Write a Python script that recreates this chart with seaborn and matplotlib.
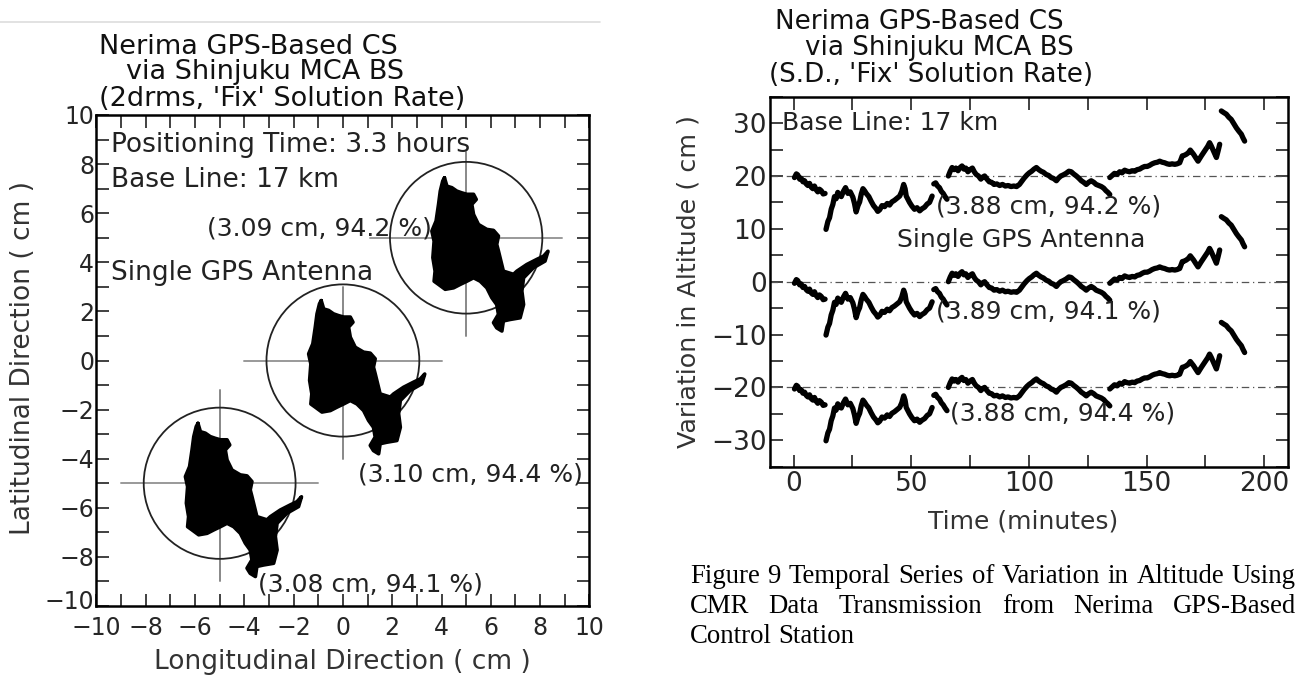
import numpy as np
import pandas as pd
import matplotlib
matplotlib.use("Agg")
import matplotlib.pyplot as plt
import matplotlib.transforms as mtransforms
import seaborn as sns
from matplotlib.patches import Circle
from matplotlib.lines import Line2D
from matplotlib.ticker import MultipleLocator

W, H = 1299, 676

# ---------------- data: left panel (horizontal scatter of three antennas) ----------------
cluster_cx = [5, 0, -5]
cluster_cy = [5, 0, -5]
cluster_r = [3.09, 3.10, 3.08]
cluster_labels = ["(3.09 cm, 94.2 %)", "(3.10 cm, 94.4 %)", "(3.08 cm, 94.1 %)"]
cluster_label_x = [-5.53, 0.60, -3.44]
cluster_label_y = [5.38, -4.66, -9.14]
cross_up = [3.5, 3.0, 3.8]
cross_down = [4.0, 4.0, 4.0]
cross_half = [3.9, 4.0, 4.0]

# outline of the dense point cloud, relative to each cluster centre (cm)
blob_dx = [-0.88, -0.78, -0.58, -0.38, -0.18, 0.03, 0.30, 0.41, 0.23, 0.30, 0.50, 0.84,
           1.11, 1.31, 1.24, 1.31, 1.51, 1.92, 2.06, 2.46, 2.87, 3.14, 3.32, 3.20, 2.73,
           2.33, 2.26, 2.33, 2.19, 1.78, 1.51, 1.45, 1.24, 1.11, 1.31, 1.24, 1.04, 0.84,
           0.57, 0.30, 0.03, -0.24, -0.51, -0.85, -1.12, -1.30, -1.26, -1.35, -1.30,
           -1.39, -1.22, -1.12, -1.05, -0.95]
blob_dy = [2.44, 2.10, 2.04, 1.90, 1.83, 1.77, 1.77, 1.56, 1.36, 0.95, 0.54, 0.34,
           0.30, 0.07, -0.27, -0.54, -1.36, -1.49, -1.36, -1.09, -0.88, -0.75, -0.55, -0.95, -1.22,
           -1.63, -2.17, -2.72, -3.26, -3.33, -3.39, -3.80, -3.67, -3.46, -3.12, -2.72, -2.44, -2.04,
           -1.77, -1.63, -1.77, -1.90, -2.04, -2.10, -1.90, -1.77, -1.36, -0.81, -0.14,
           0.27, 0.68, 1.36, 1.90, 2.31]

# ---------------- data: right panel (altitude time series) ----------------
series_offsets = [20, 0, -20]
series_labels = ["(3.88 cm, 94.2 %)", "(3.89 cm, 94.1 %)", "(3.88 cm, 94.4 %)"]
series_label_t = [60.5, 60.5, 66.3]
series_label_v = [14.2, -5.7, -24.9]

seg1 = [(0.4, -0.3), (1.2, 0.4), (1.8, 0.2), (2.6, -0.6), (3.2, -0.4), (4.0, -1.1), (4.7, -0.9),
        (5.4, -1.5), (6.1, -1.8), (6.8, -1.4), (7.5, -2.1), (8.2, -2.4), (8.9, -1.9), (9.6, -2.6),
        (10.3, -3.0), (11.0, -2.5), (11.8, -2.8), (12.6, -3.4), (13.4, -3.3)]
seg2 = [(13.8, -10.1), (14.6, -8.6), (15.3, -7.9), (16.0, -6.3), (16.7, -5.4), (17.4, -3.9),
        (18.1, -4.3), (18.8, -3.1), (19.5, -3.7), (20.3, -3.9), (21.2, -2.9), (22.1, -2.2),
        (23.1, -3.3), (24.1, -3.0), (25.2, -4.0), (25.9, -5.2), (26.6, -6.8), (27.4, -5.6),
        (28.1, -4.9), (28.8, -3.4), (29.5, -2.4), (30.2, -2.8), (30.9, -3.3), (32.0, -3.9),
        (33.0, -4.8), (34.0, -5.6), (35.1, -6.2), (35.8, -6.7), (36.6, -6.4), (37.6, -5.6),
        (38.7, -5.8), (39.8, -5.2), (40.8, -5.5), (41.8, -4.9), (42.9, -4.6), (44.0, -4.2),
        (45.1, -3.8), (46.0, -2.9), (46.8, -1.6), (47.4, -2.4), (47.9, -3.8), (48.6, -4.4),
        (49.3, -5.0), (50.3, -5.7), (51.4, -6.3), (52.5, -6.0), (53.6, -6.6), (54.6, -6.2),
        (55.7, -5.9), (56.8, -5.3), (57.8, -5.0), (58.9, -3.8)]
seg3 = [(59.6, -1.5), (60.4, -1.3), (61.2, -1.9), (62.0, -2.2), (62.8, -2.9), (63.6, -3.3),
        (64.4, -3.9), (65.2, -4.4)]
seg4 = [(65.8, 0.0), (66.6, 0.9), (67.4, 1.6), (68.2, 1.2), (69.0, 1.5), (69.9, 1.0), (70.8, 1.6),
        (71.6, 1.9), (72.4, 1.3), (73.2, 1.5), (74.1, 0.8), (75.0, 1.2), (76.0, 1.5), (76.8, 0.8),
        (77.6, 0.3), (78.6, 0.0), (79.6, -0.6), (80.4, -0.2), (81.2, 0.0), (82.2, -0.6),
        (83.2, -1.1), (84.2, -1.2), (85.2, -1.6), (86.4, -1.5), (87.6, -1.8), (88.8, -1.6),
        (90.0, -1.9), (91.2, -1.8), (92.4, -2.0), (93.6, -1.9), (94.8, -2.0), (96.0, -1.6),
        (97.0, -1.0), (98.0, -0.4), (99.2, 0.2), (100.2, 0.6), (101.2, 0.9), (102.2, 1.3),
        (103.2, 1.6), (104.2, 1.2), (105.2, 0.9), (106.2, 0.7), (107.3, 0.3), (108.4, 0.1),
        (109.5, -0.3), (110.6, -0.5), (111.7, -0.9), (112.6, -0.4), (113.6, 0.0), (114.6, 0.2),
        (115.8, 0.5), (117.0, 0.9), (118.0, 0.8), (119.0, 0.4), (120.2, 0.0), (121.2, -0.4),
        (122.3, -0.9), (123.3, -1.2), (124.4, -1.6), (125.4, -1.2), (126.5, -0.9), (127.6, -1.2),
        (128.6, -1.6), (129.7, -1.8), (130.8, -2.0), (131.8, -2.3), (132.8, -2.8), (133.6, -3.1),
        (134.4, -3.5)]
seg5 = [(134.4, -0.3), (135.4, 0.1), (136.4, 0.5), (137.5, 0.3), (138.6, 0.8), (139.6, 0.6),
        (140.7, 1.1), (141.8, 0.9), (142.8, 0.8), (143.9, 1.0), (145.0, 0.9), (146.0, 1.2),
        (147.1, 1.3), (148.2, 1.6), (149.2, 1.8), (150.3, 1.8), (151.3, 2.0), (152.4, 2.3),
        (153.5, 2.5), (154.6, 2.6), (155.6, 2.8), (156.7, 2.6), (157.7, 2.5), (158.8, 2.3),
        (159.8, 2.2), (160.9, 2.3), (162.0, 2.2), (163.0, 2.3), (164.1, 2.5), (164.7, 3.2),
        (165.2, 3.8), (166.0, 3.9), (166.9, 4.1), (167.8, 4.4), (168.6, 4.9), (169.3, 4.5),
        (170.0, 4.1), (171.0, 3.4), (171.9, 2.8), (172.6, 3.3), (173.3, 3.8), (174.2, 4.4),
        (175.1, 5.0), (176.0, 5.6), (176.8, 6.3), (177.5, 5.7), (178.2, 5.0), (179.0, 4.2),
        (179.7, 3.5), (180.4, 4.7), (181.1, 6.0)]
seg6 = [(181.8, 12.3), (182.8, 12.0), (183.9, 11.7), (185.0, 11.1), (186.0, 10.7), (187.1, 9.9),
        (188.2, 9.1), (189.2, 8.5), (190.3, 7.9), (191.0, 7.2), (191.7, 6.6)]
segments = [seg1, seg2, seg3, seg4, seg5, seg6]

caption_lines = ["Figure 9 Temporal Series of Variation in Altitude Using",
                 "CMR Data Transmission from Nerima GPS-Based",
                 "Control Station"]

# ---------------- style ----------------
sns.set_theme(style="ticks")
plt.rcParams['font.family'] = ['DejaVu Sans']
plt.rcParams['axes.linewidth'] = 1.8
plt.rcParams['axes.edgecolor'] = 'black'
plt.rcParams['text.color'] = '#111111'

fig = plt.figure(figsize=(W / 100, H / 100), dpi=100)
fig.patch.set_facecolor('white')


def fx(x):
    return x / W


def fy(y):
    return 1 - y / H


# page rule at the top of the left figure
fig.add_artist(Line2D([0, fx(600)], [fy(22), fy(22)], color='#dddddd', lw=1.2,
                      transform=fig.transFigure))

# ================= left panel =================
ax1 = fig.add_axes([fx(96.4), fy(606), fx(589.4 - 96.4), (606 - 115) / H])
ax1.set_facecolor('white')

rows = []
for k, (cx, cy) in enumerate(zip(cluster_cx, cluster_cy)):
    xs = [cx + d for d in blob_dx] + [cx + blob_dx[0]]
    ys = [cy + d for d in blob_dy] + [cy + blob_dy[0]]
    for i, (x, y) in enumerate(zip(xs, ys)):
        rows.append(dict(x=x, y=y, cluster=k, order=i))
blobs = pd.DataFrame(rows)

for k, (cx, cy, r) in enumerate(zip(cluster_cx, cluster_cy, cluster_r)):
    ax1.plot([cx - cross_half[k], cx + cross_half[k]], [cy, cy], color='#999999', lw=1.4, zorder=1)
    ax1.plot([cx, cx], [cy - cross_down[k], cy + cross_up[k]], color='#888888', lw=1.4, zorder=1)
    ax1.add_patch(Circle((cx, cy), r, fill=False, ec='#222222', lw=1.3, zorder=2))
    sub = blobs[blobs.cluster == k]
    ax1.fill(sub.x, sub.y, color='black', zorder=3)

sns.lineplot(data=blobs, x='x', y='y', units='cluster', estimator=None, sort=False,
             color='black', lw=2.6, ax=ax1, legend=False, zorder=3)

for lab, lx, ly in zip(cluster_labels, cluster_label_x, cluster_label_y):
    ax1.text(lx, ly, lab, fontsize=18, va='center', ha='left', zorder=4, color='#222222')
ax1.text(-9.41, 8.78, "Positioning Time: 3.3 hours", fontsize=19, va='center', ha='left',
         color='#222222')
ax1.text(-9.41, 7.35, "Base Line: 17 km", fontsize=19, va='center', ha='left', color='#222222')
ax1.text(-9.41, 3.55, "Single GPS Antenna", fontsize=19, va='center', ha='left', color='#222222')

ax1.set_xlim(-10, 10)
ax1.set_ylim(-10, 10)
ax1.set_xticks(range(-10, 11, 2))
ax1.set_yticks(range(-10, 11, 2))
ax1.xaxis.set_minor_locator(MultipleLocator(1))
ax1.yaxis.set_minor_locator(MultipleLocator(1))
ax1.tick_params(which='both', direction='in', top=True, right=True, length=9, width=1.3,
                color='#333333')
ax1.tick_params(axis='x', labelsize=17, pad=7.5)
ax1.tick_params(axis='y', labelsize=17, pad=1.5)
ax1.set_xlabel('')
ax1.set_ylabel('')
for s in ax1.spines.values():
    s.set_linewidth(1.8)
# lift the lowest y label a little so it clears the x label at the corner
low_lab = ax1.yaxis.get_major_ticks()[0].label1
low_lab.set_transform(low_lab.get_transform() +
                      mtransforms.ScaledTranslation(0, 5 / 72, fig.dpi_scale_trans))

fig.text(fx(98.7), fy(46.7), "Nerima GPS\u2010Based CS", fontsize=19.5, va='center', ha='left')
fig.text(fx(126.3), fy(72), "via Shinjuku MCA BS", fontsize=19.5, va='center', ha='left')
fig.text(fx(98.7), fy(98.7), "(2drms, 'Fix' Solution Rate)", fontsize=19.5, va='center', ha='left')
fig.text(fx(342.5), fy(662), "Longitudinal Direction ( cm )", fontsize=19, va='center', ha='center',
         color='#333333')
fig.text(fx(23), fy(358), "Latitudinal Direction ( cm )", fontsize=19, va='center', ha='center',
         rotation=90, color='#333333')

# ================= right panel =================
ax2 = fig.add_axes([fx(770), fy(466.7), fx(1287.7 - 770), (466.7 - 96.7) / H])
ax2.set_facecolor('white')

trows = []
for off in series_offsets:
    for j, seg in enumerate(segments):
        for i, (t, v) in enumerate(seg):
            trows.append(dict(t=t, v=v + off, unit=f"{off}_{j}", order=i))
ts = pd.DataFrame(trows)

for off in series_offsets:
    ax2.axhline(off, color='#555555', lw=0.9, ls=(0, (6, 3, 1, 3)), zorder=1)

sns.lineplot(data=ts, x='t', y='v', units='unit', estimator=None, sort=False,
             color='black', lw=3.8, ax=ax2, legend=False, zorder=3)

for lab, lt, lv in zip(series_labels, series_label_t, series_label_v):
    ax2.text(lt, lv, lab, fontsize=18, va='center', ha='left', zorder=4, color='#222222')
ax2.text(-4.7, 30, "Base Line: 17 km", fontsize=18, va='center', ha='left', color='#222222')
ax2.text(44, 7.9, "Single GPS Antenna", fontsize=18, va='center', ha='left', color='#222222')

ax2.set_xlim(-10, 210)
ax2.set_ylim(-35, 35)
ax2.set_xticks(range(0, 201, 50))
ax2.set_yticks(range(-30, 31, 10))
ax2.xaxis.set_minor_locator(MultipleLocator(25))
ax2.yaxis.set_minor_locator(MultipleLocator(5))
ax2.tick_params(which='both', direction='in', top=True, right=True, length=9, width=1.3,
                color='#333333')
ax2.tick_params(axis='x', labelsize=19, pad=3)
ax2.tick_params(axis='y', labelsize=19, pad=2.5)
ax2.set_xlabel('')
ax2.set_ylabel('')
for s in ax2.spines.values():
    s.set_linewidth(1.8)

fig.text(fx(775), fy(22), "Nerima GPS\u2010Based CS", fontsize=18.8, va='center', ha='left')
fig.text(fx(804.6), fy(48), "via Shinjuku MCA BS", fontsize=18.8, va='center', ha='left')
fig.text(fx(768.7), fy(75), "(S.D., 'Fix' Solution Rate)", fontsize=18.8, va='center', ha='left')
fig.text(fx(1023), fy(521.7), "Time (minutes)", fontsize=18, va='center', ha='center',
         color='#333333')
fig.text(fx(688.5), fy(281), "Variation in Altitude ( cm )", fontsize=18.3, va='center',
         ha='center', rotation=90, color='#333333')

# ================= caption (justified) =================
renderer = fig.canvas.get_renderer()
cap_x0, cap_x1 = 689.8, 1296
cap_y = [576.7, 606.7, 636.7]
cap_fs = 19.3
for li, (line, yy) in enumerate(zip(caption_lines, cap_y)):
    words = line.split(' ')
    texts = [fig.text(fx(cap_x0), fy(yy), w, fontsize=cap_fs, family=['Liberation Serif'],
                      va='center', ha='left', color='black') for w in words]
    widths = [t.get_window_extent(renderer).width for t in texts]
    if li < len(caption_lines) - 1 and len(words) > 1:
        gap = ((cap_x1 - cap_x0) - sum(widths)) / (len(words) - 1)
    else:
        sp = fig.text(0, 0, 'a a', fontsize=cap_fs, family=['Liberation Serif'])
        sp2 = fig.text(0, 0, 'aa', fontsize=cap_fs, family=['Liberation Serif'])
        gap = sp.get_window_extent(renderer).width - sp2.get_window_extent(renderer).width
        sp.remove()
        sp2.remove()
    x = cap_x0
    for t, w in zip(texts, widths):
        t.set_x(fx(x))
        x += w + gap

fig.savefig('out.png', dpi=100, facecolor='white')
